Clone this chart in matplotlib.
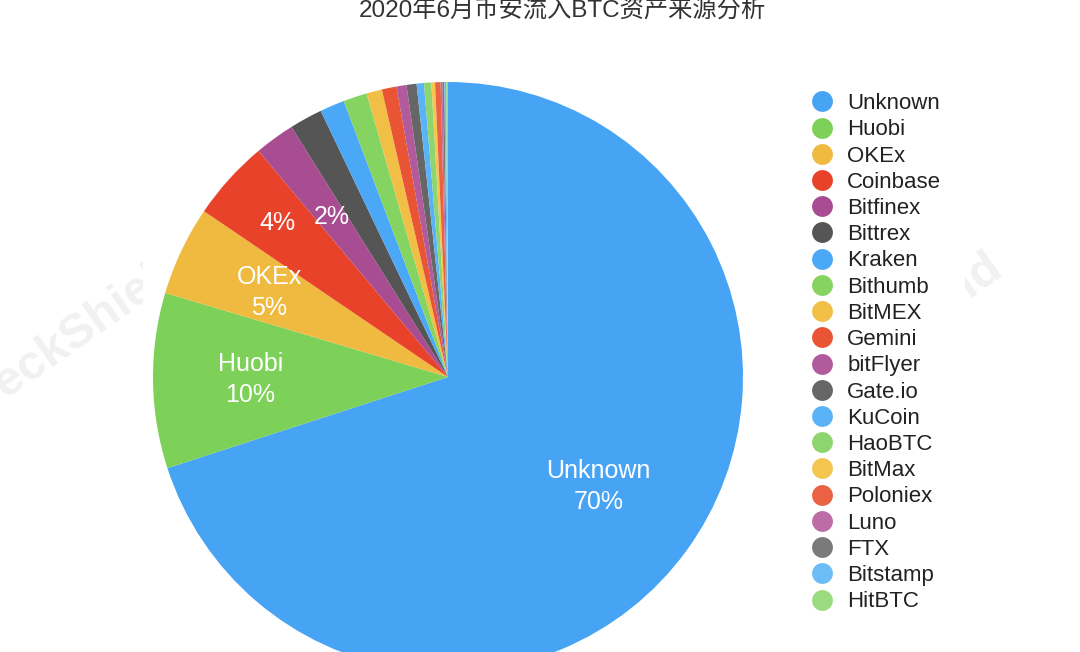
import matplotlib
matplotlib.use("Agg")
import matplotlib.pyplot as plt
from matplotlib.lines import Line2D
from matplotlib.patches import Rectangle
import numpy as np

plt.rcParams['font.family'] = ['Liberation Sans', 'Noto Sans CJK SC', 'DejaVu Sans']

title = "2020年6月币安流入BTC资产来源分析"

sources = ["Unknown", "Huobi", "OKEx", "Coinbase", "Bitfinex", "Bittrex", "Kraken",
           "Bithumb", "BitMEX", "Gemini", "bitFlyer", "Gate.io", "KuCoin", "HaoBTC",
           "BitMax", "Poloniex", "Luno", "FTX", "Bitstamp", "HitBTC"]
shares = [70.0, 9.6, 4.9, 4.4, 2.2, 1.8, 1.35, 1.3, 0.85, 0.8, 0.55, 0.55, 0.4, 0.4,
          0.2, 0.3, 0.1, 0.1, 0.1, 0.1]
colors = ["#47a4f4", "#7dd058", "#f0b940", "#e8432a", "#a94d92", "#555555", "#4aa8f6",
          "#85d360", "#f2bf46", "#e95434", "#b15a9c", "#666666", "#5ab3f7", "#8ed56f",
          "#f3c64f", "#ea6143", "#bd6ca6", "#7a7a7a", "#6cbcf8", "#9bdb80"]

# Which slices carry an in-pie label, and whether the name is shown with the share
show_name = {"Unknown": True, "Huobi": True, "OKEx": True, "Coinbase": False, "Bitfinex": False}
label_radius = {"Unknown": 0.63, "Huobi": 0.67, "OKEx": 0.67, "Coinbase": 0.78, "Bitfinex": 0.67}

W, H = 1080, 652
fig = plt.figure(figsize=(W / 100, H / 100), dpi=100)

# Faint background watermarks, partly hidden by the white chart panel
wm = dict(fontsize=35, fontweight="bold", color="#000000", alpha=0.06, rotation=35,
          rotation_mode="anchor", va="baseline", zorder=0)
fig.text(-20 / W, 1 - 416 / H, "PeckShield", ha="left", **wm)
fig.text(1005 / W, 1 - 272 / H, "PeckShield", ha="right", **wm)
fig.patches.append(Rectangle((143 / W, 0), (965 - 143) / W, 1, transform=fig.transFigure,
                             facecolor="white", edgecolor="none", zorder=0.5))

cx, cy, r = 448, 377, 295
ax = fig.add_axes([(cx - r) / W, (H - cy - r) / H, 2 * r / W, 2 * r / H])
ax.set_zorder(2)
wedges, _ = ax.pie(shares, colors=colors, startangle=90, counterclock=False,
                   radius=1.0, wedgeprops=dict(linewidth=0))
ax.set_xlim(-1, 1)
ax.set_ylim(-1, 1)
ax.set_aspect("equal")
ax.axis("off")

for w, name, val in zip(wedges, sources, shares):
    if name not in show_name:
        continue
    mid = np.deg2rad((w.theta1 + w.theta2) / 2)
    rr = label_radius[name]
    pct = f"{round(val)}%"
    txt = f"{name}\n{pct}" if show_name[name] else pct
    ax.text(rr * np.cos(mid), rr * np.sin(mid), txt, ha="center", va="center",
            color="white", fontsize=18, linespacing=1.35)

handles = [Line2D([0], [0], marker="o", linestyle="none", markersize=15,
                  markerfacecolor=c, markeredgewidth=0) for c in colors]
leg = fig.legend(handles, sources, loc="upper left", bbox_to_anchor=(800 / W, 1 - 82 / H),
                 frameon=False, fontsize=16, handlelength=1.0, handletextpad=0.62,
                 labelspacing=0.235, borderpad=0, labelcolor="#222222")
leg.set_zorder(3)

fig.text(562 / W, 1 - 11 / H, title, ha="center", va="center", fontsize=17.5,
         color="#333333", zorder=3)

fig.savefig("out.png", dpi=100, facecolor="white")
